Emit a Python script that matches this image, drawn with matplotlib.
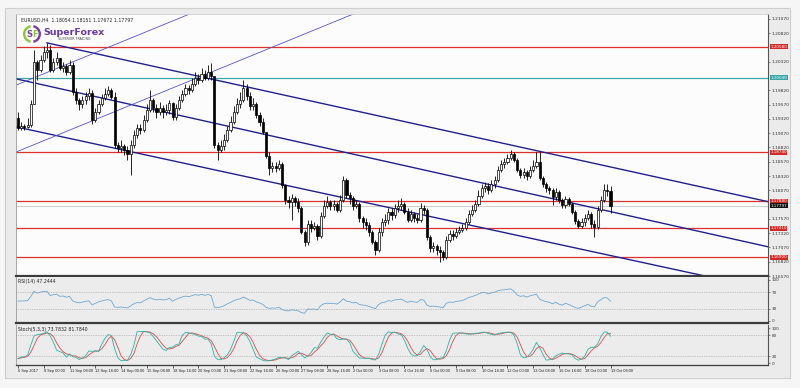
"""EURUSD H4 chart in MT4 style (SuperForex snapshot)."""

import matplotlib
matplotlib.use("Agg")
import matplotlib.pyplot as plt
from matplotlib.patches import Rectangle, Wedge
from matplotlib.transforms import blended_transform_factory
import numpy as np
import pandas as pd

W, H = 800, 388

# H4 bars, 6 Sep 2017 16:00 .. 19 Oct 2017 08:00 (open of each bar = previous close)
first_open = 1.1933
closes = [
    1.1916, 1.1919, 1.1918, 1.1921, 1.1958, 1.2032, 1.2018, 1.2035, 1.2049, 1.2053,
    1.2018, 1.2032, 1.2039, 1.2021, 1.2025, 1.2014, 1.2026, 1.1979, 1.1965, 1.1958,
    1.1965, 1.1972, 1.1977, 1.1930, 1.1944, 1.1958, 1.1968, 1.1976, 1.1982, 1.1970,
    1.1886, 1.1881, 1.1884, 1.1877, 1.1870, 1.1886, 1.1904, 1.1916, 1.1912, 1.1930,
    1.1947, 1.1965, 1.1951, 1.1944, 1.1951, 1.1944, 1.1947, 1.1960, 1.1935, 1.1951,
    1.1965, 1.1976, 1.1986, 1.1982, 1.1993, 1.2004, 1.2000, 1.2011, 1.2004, 1.2014,
    1.2007, 1.1886, 1.1877, 1.1884, 1.1895, 1.1912, 1.1926, 1.1944, 1.1958, 1.1965,
    1.1986, 1.1972, 1.1954, 1.1958, 1.1939, 1.1926, 1.1909, 1.1867, 1.1846, 1.1849,
    1.1846, 1.1853, 1.1816, 1.1790, 1.1786, 1.1793, 1.1786, 1.1776, 1.1734, 1.1716,
    1.1748, 1.1741, 1.1744, 1.1727, 1.1762, 1.1779, 1.1786, 1.1779, 1.1783, 1.1772,
    1.1790, 1.1825, 1.1799, 1.1793, 1.1779, 1.1783, 1.1758, 1.1751, 1.1746, 1.1734,
    1.1716, 1.1702, 1.1734, 1.1751, 1.1755, 1.1769, 1.1764, 1.1776, 1.1779, 1.1783,
    1.1769, 1.1755, 1.1765, 1.1758, 1.1755, 1.1776, 1.1772, 1.1725, 1.1706, 1.1709,
    1.1702, 1.1699, 1.1690, 1.1720, 1.1730, 1.1727, 1.1734, 1.1737, 1.1741, 1.1751,
    1.1765, 1.1772, 1.1783, 1.1797, 1.1811, 1.1814, 1.1807, 1.1818, 1.1825, 1.1842,
    1.1853, 1.1856, 1.1863, 1.1870, 1.1860, 1.1842, 1.1834, 1.1839, 1.1832, 1.1842,
    1.1849, 1.1856, 1.1828, 1.1818, 1.1811, 1.1807, 1.1795, 1.1804, 1.1790, 1.1781,
    1.1792, 1.1783, 1.1769, 1.1753, 1.1744, 1.1751, 1.1758, 1.1765, 1.1748, 1.1743,
    1.1772, 1.1790, 1.1807, 1.18054, 1.17797,
]
highs = [
    1.1944, 1.1926, 1.1923, 1.1933, 1.1965, 1.2053, 1.2035, 1.2044, 1.2060, 1.2065,
    1.2061, 1.2039, 1.2049, 1.2039, 1.2032, 1.2028, 1.2035, 1.2032, 1.1986, 1.1968,
    1.1972, 1.1979, 1.1986, 1.1982, 1.1951, 1.1965, 1.1976, 1.1986, 1.1990, 1.1986,
    1.1979, 1.1891, 1.1895, 1.1888, 1.1884, 1.1895, 1.1912, 1.1923, 1.1923, 1.1939,
    1.1958, 1.1982, 1.1968, 1.1958, 1.1961, 1.1956, 1.1958, 1.1965, 1.1961, 1.1958,
    1.1972, 1.1982, 1.1993, 1.1991, 1.2004, 1.2014, 1.2011, 1.2021, 1.2018, 1.2026,
    1.2030, 1.2007, 1.1891, 1.1895, 1.1905, 1.1919, 1.1937, 1.1954, 1.1968, 1.1979,
    1.2000, 1.1993, 1.1979, 1.1968, 1.1961, 1.1944, 1.1933, 1.1909, 1.1874, 1.1856,
    1.1856, 1.1860, 1.1856, 1.1818, 1.1797, 1.1800, 1.1797, 1.1793, 1.1779, 1.1737,
    1.1755, 1.1755, 1.1751, 1.1748, 1.1769, 1.1790, 1.1797, 1.1790, 1.1790, 1.1786,
    1.1799, 1.1832, 1.1828, 1.1804, 1.1797, 1.1790, 1.1786, 1.1762, 1.1758, 1.1751,
    1.1737, 1.1720, 1.1741, 1.1758, 1.1765, 1.1776, 1.1776, 1.1783, 1.1790, 1.1793,
    1.1786, 1.1776, 1.1772, 1.1769, 1.1765, 1.1785, 1.1781, 1.1776, 1.1729, 1.1716,
    1.1713, 1.1709, 1.1702, 1.1727, 1.1737, 1.1737, 1.1741, 1.1744, 1.1748, 1.1758,
    1.1772, 1.1781, 1.1790, 1.1807, 1.1818, 1.1821, 1.1820, 1.1825, 1.1832, 1.1849,
    1.1860, 1.1863, 1.1870, 1.1877, 1.1874, 1.1863, 1.1846, 1.1846, 1.1842, 1.1849,
    1.1860, 1.1874, 1.1874, 1.1832, 1.1821, 1.1814, 1.1811, 1.1811, 1.1807, 1.1793,
    1.1797, 1.1795, 1.1786, 1.1772, 1.1757, 1.1758, 1.1765, 1.1772, 1.1769, 1.1755,
    1.1779, 1.1797, 1.1818, 1.1818, 1.18151,
]
lows = [
    1.1912, 1.1912, 1.1912, 1.1916, 1.1918, 1.1958, 1.2000, 1.2014, 1.2032, 1.2039,
    1.2014, 1.2014, 1.2026, 1.2018, 1.2014, 1.2009, 1.2011, 1.1974, 1.1958, 1.1947,
    1.1951, 1.1958, 1.1965, 1.1923, 1.1926, 1.1940, 1.1954, 1.1965, 1.1972, 1.1967,
    1.1881, 1.1874, 1.1874, 1.1869, 1.1860, 1.1834, 1.1881, 1.1898, 1.1905, 1.1909,
    1.1926, 1.1944, 1.1944, 1.1933, 1.1939, 1.1933, 1.1939, 1.1940, 1.1930, 1.1930,
    1.1947, 1.1961, 1.1972, 1.1976, 1.1979, 1.1990, 1.1993, 1.1997, 1.2000, 1.2000,
    1.2000, 1.1881, 1.1860, 1.1874, 1.1877, 1.1891, 1.1909, 1.1923, 1.1940, 1.1951,
    1.1961, 1.1965, 1.1947, 1.1947, 1.1933, 1.1919, 1.1905, 1.1863, 1.1834, 1.1839,
    1.1839, 1.1842, 1.1811, 1.1783, 1.1776, 1.1755, 1.1779, 1.1769, 1.1730, 1.1709,
    1.1711, 1.1734, 1.1737, 1.1720, 1.1724, 1.1758, 1.1776, 1.1772, 1.1772, 1.1769,
    1.1769, 1.1786, 1.1793, 1.1783, 1.1772, 1.1776, 1.1751, 1.1741, 1.1737, 1.1727,
    1.1713, 1.1694, 1.1699, 1.1727, 1.1744, 1.1748, 1.1755, 1.1758, 1.1769, 1.1772,
    1.1765, 1.1751, 1.1751, 1.1751, 1.1750, 1.1751, 1.1765, 1.1720, 1.1699, 1.1699,
    1.1694, 1.1681, 1.1685, 1.1687, 1.1716, 1.1720, 1.1724, 1.1730, 1.1734, 1.1737,
    1.1748, 1.1762, 1.1769, 1.1779, 1.1793, 1.1804, 1.1800, 1.1804, 1.1811, 1.1821,
    1.1839, 1.1846, 1.1853, 1.1860, 1.1856, 1.1839, 1.1828, 1.1828, 1.1825, 1.1828,
    1.1839, 1.1846, 1.1825, 1.1813, 1.1804, 1.1800, 1.1781, 1.1790, 1.1785, 1.1776,
    1.1776, 1.1779, 1.1765, 1.1748, 1.1741, 1.1741, 1.1744, 1.1755, 1.1741, 1.1725,
    1.1739, 1.1769, 1.1786, 1.1797, 1.17672,
]

date_labels = [
    "6 Sep 2017", "8 Sep 00:00", "11 Sep 08:00", "12 Sep 16:00", "14 Sep 00:00",
    "15 Sep 08:00", "18 Sep 16:00", "20 Sep 00:00", "21 Sep 08:00", "22 Sep 16:00",
    "26 Sep 00:00", "27 Sep 08:00", "28 Sep 16:00", "2 Oct 00:00", "3 Oct 08:00",
    "4 Oct 16:00", "6 Oct 00:00", "9 Oct 08:00", "10 Oct 16:00", "12 Oct 00:00",
    "13 Oct 08:00", "16 Oct 16:00", "18 Oct 00:00", "19 Oct 08:00",
]
bars_per_label = 8

price_ticks = [1.16570 + 0.0025 * k for k in range(19)]
red_levels = [1.2058, 1.1874, 1.1788, 1.1741, 1.1690]
teal_level = 1.2004

# trend lines: (bar indices, prices)
channel_lines = [
    ([9, 233], [1.2065, 1.1787]),
    ([-0.6, 233], [1.2002, 1.1708]),
    ([-0.6, 233], [1.1918, 1.1633]),
]
fan_lines = [
    ([-0.6, 60], [1.1991, 1.2131]),
    ([-0.6, 110], [1.1874, 1.2129]),
]

# RSI state carried in from bars before the first visible one
rsi_prior_gain, rsi_prior_loss = 0.00069, 0.00061

n = len(closes)
idx = np.arange(n)
opens = [first_open] + closes[:-1]
highs = np.maximum(np.maximum(highs, opens), closes)
lows = np.minimum(np.minimum(lows, opens), closes)

# RSI(14), Wilder smoothing
g, l = rsi_prior_gain, rsi_prior_loss
rsi = []
for o, c in zip(opens, closes):
    d = c - o
    g = (g * 13 + max(d, 0)) / 14
    l = (l * 13 + max(-d, 0)) / 14
    rsi.append(100 - 100 / (1 + g / l))

# Stochastic(5,3,3)
cs, hs, ls = pd.Series(closes), pd.Series(highs), pd.Series(lows)
hh = hs.rolling(5, min_periods=1).max()
ll = ls.rolling(5, min_periods=1).min()
k_line = 100 * (cs - ll).rolling(3, min_periods=1).sum() / (hh - ll).rolling(3, min_periods=1).sum()
d_line = k_line.rolling(3, min_periods=1).mean()

fig = plt.figure(figsize=(W / 100, H / 100), dpi=100)
fig.patch.set_facecolor("#f6f6f6")


def frac(l_, t_, r_, b_):
    return [l_ / W, 1 - b_ / H, (r_ - l_) / W, (b_ - t_) / H]


bg = fig.add_axes([0, 0, 1, 1], zorder=0)
bg.set_xlim(0, W)
bg.set_ylim(H, 0)
bg.axis("off")
bg.add_patch(Rectangle((5, 8), 785, 370, fc="#ebebeb", ec="#cfcfcf", lw=0.8))

XL = (-0.62, 232.9)
ax = fig.add_axes(frac(16, 14, 768, 276), zorder=1)
ax_rsi = fig.add_axes(frac(16, 277, 768, 323), zorder=1, sharex=ax)
ax_st = fig.add_axes(frac(16, 325, 768, 365), zorder=1, sharex=ax)

ax.set_facecolor("#fcfcfc")
ax_rsi.set_facecolor("#ececec")
ax_st.set_facecolor("#ececec")

# candles
up = np.array(closes) >= np.array(opens)
ax.vlines(idx, lows, highs, color="black", lw=0.6, zorder=3)
body = np.array(closes) - np.array(opens)
ax.bar(idx[up], body[up], bottom=np.array(opens)[up], width=0.66,
       color="white", edgecolor="black", lw=0.5, zorder=4)
ax.bar(idx[~up], body[~up], bottom=np.array(opens)[~up], width=0.66,
       color="black", edgecolor="black", lw=0.5, zorder=4)

# levels and lines
for lv in red_levels:
    ax.axhline(lv, color="#e0302c", lw=0.9, zorder=2)
ax.axhline(teal_level, color="#3aa9a9", lw=0.9, zorder=2)
ax.axhline(closes[-1], color="#c4c4c4", lw=0.6, zorder=1)
for xs, ps in channel_lines:
    ax.plot(xs, ps, color="#20208f", lw=1.0, zorder=2)
for xs, ps in fan_lines:
    ax.plot(xs, ps, color="#5555c8", lw=0.6, zorder=2)

ax.set_xlim(*XL)
ax.set_ylim(1.1657, 1.21155)
ax.yaxis.tick_right()

# price labels, the ones sitting under a level box are hidden as in the terminal
box_levels = red_levels + [teal_level, closes[-1]]
px_per_price = 262 / (1.21155 - 1.1657)
shown = [p for p in price_ticks if min(abs(p - b) for b in box_levels) * px_per_price > 4.5]
ax.set_yticks(shown)
ax.set_yticklabels([f"{p:.5f}" for p in shown])
ax.tick_params(axis="y", labelsize=3.2, length=1.5, pad=1.2, colors="#333333", width=0.4)
ax.tick_params(axis="x", bottom=False, labelbottom=False)

trans = blended_transform_factory(ax.transAxes, ax.transData)
boxes = [(lv, "#d42a26") for lv in red_levels] + [(teal_level, "#35a7a7"), (closes[-1], "#111111")]
for lv, colr in boxes:
    ax.text(1.003, lv, f"{lv:.5f}", transform=trans, fontsize=3.0, color="white",
            va="center", ha="left", clip_on=False, zorder=10,
            bbox=dict(boxstyle="square,pad=0.12", fc=colr, ec="none"))

ax.text(0.006, 0.985, "EURUSD,H4  1.18054 1.18151 1.17672 1.17797", transform=ax.transAxes,
        fontsize=3.3, va="top", ha="left", color="#222222")

# RSI panel
ax_rsi.plot(idx, rsi, color="#6aa8d8", lw=0.6)
for lv in (70, 30):
    ax_rsi.axhline(lv, color="#9a9a9a", lw=0.5, ls=(0, (1, 1.5)))
ax_rsi.set_ylim(-4.9, 107.3)
ax_rsi.yaxis.tick_right()
ax_rsi.set_yticks([100, 70, 30, 0])
ax_rsi.set_yticklabels(["100", "70", "30", "0"])
ax_rsi.tick_params(axis="y", labelsize=3.0, length=1.5, pad=1.2, colors="#333333", width=0.4)
ax_rsi.tick_params(axis="x", bottom=False, labelbottom=False)
ax_rsi.text(0.003, 0.96, "RSI(14) 47.2444", transform=ax_rsi.transAxes,
            fontsize=3.3, va="top", ha="left", color="#222222")

# Stochastic panel
ax_st.plot(idx, d_line, color="#e04a4a", lw=0.6)
ax_st.plot(idx, k_line, color="#2ab3a8", lw=0.6)
for lv in (80, 20):
    ax_st.axhline(lv, color="#9a9a9a", lw=0.5, ls=(0, (1, 1.5)))
ax_st.set_ylim(-5.7, 108.6)
ax_st.yaxis.tick_right()
ax_st.set_yticks([100, 80, 20, 0])
ax_st.set_yticklabels(["100", "80", "20", "0"])
ax_st.tick_params(axis="y", labelsize=3.0, length=1.5, pad=1.2, colors="#333333", width=0.4)
ax_st.text(0.003, 0.96, "Stoch(5,3,3) 73.7832 81.7840", transform=ax_st.transAxes,
           fontsize=3.3, va="top", ha="left", color="#222222")

tick_pos = np.arange(len(date_labels)) * bars_per_label
ax_st.set_xticks(tick_pos)
ax_st.set_xticklabels(date_labels, ha="left", family="Liberation Sans")
ax_st.tick_params(axis="x", labelsize=2.8, length=2, pad=1.2, colors="#222222", width=0.5)
ax_st.set_xlim(*XL)

for a in (ax, ax_rsi, ax_st):
    a.spines["left"].set_color("#9a9a9a")
    a.spines["left"].set_linewidth(0.6)
    a.spines["right"].set_color("#555555")
    a.spines["right"].set_linewidth(0.8)
    a.spines["top"].set_visible(False)
    a.spines["bottom"].set_color("#3c3c3c")
    a.spines["bottom"].set_linewidth(1.6)
ax.spines["top"].set_visible(True)
ax.spines["top"].set_color("#cfcfcf")
ax.spines["top"].set_linewidth(0.6)
ax_st.spines["bottom"].set_linewidth(0.9)

# SuperForex logo
top = fig.add_axes([0, 0, 1, 1], zorder=5)
top.set_xlim(0, W)
top.set_ylim(H, 0)
top.axis("off")
top.patch.set_alpha(0)
top.add_patch(Wedge((32, 34), 9, 100, 260, width=2.4, fc="#8cc63f", ec="none"))
top.add_patch(Wedge((32, 34), 9, 280, 80, width=2.4, fc="#7a3e9d", ec="none"))
top.text(29.5, 34.5, "S", fontsize=6, color="#7a3e9d", ha="center", va="center", fontweight="bold")
top.text(34.8, 34.5, "F", fontsize=6, color="#8cc63f", ha="center", va="center", fontweight="bold")
top.text(43, 32.5, "SuperForex", fontsize=6.8, color="#6a3a9c", ha="left", va="center",
         fontweight="bold")
top.text(58, 39.5, "SUPERIOR TRADING", fontsize=2.3, color="#444444", ha="left", va="center")

fig.savefig("out.png", dpi=100, facecolor=fig.get_facecolor())
